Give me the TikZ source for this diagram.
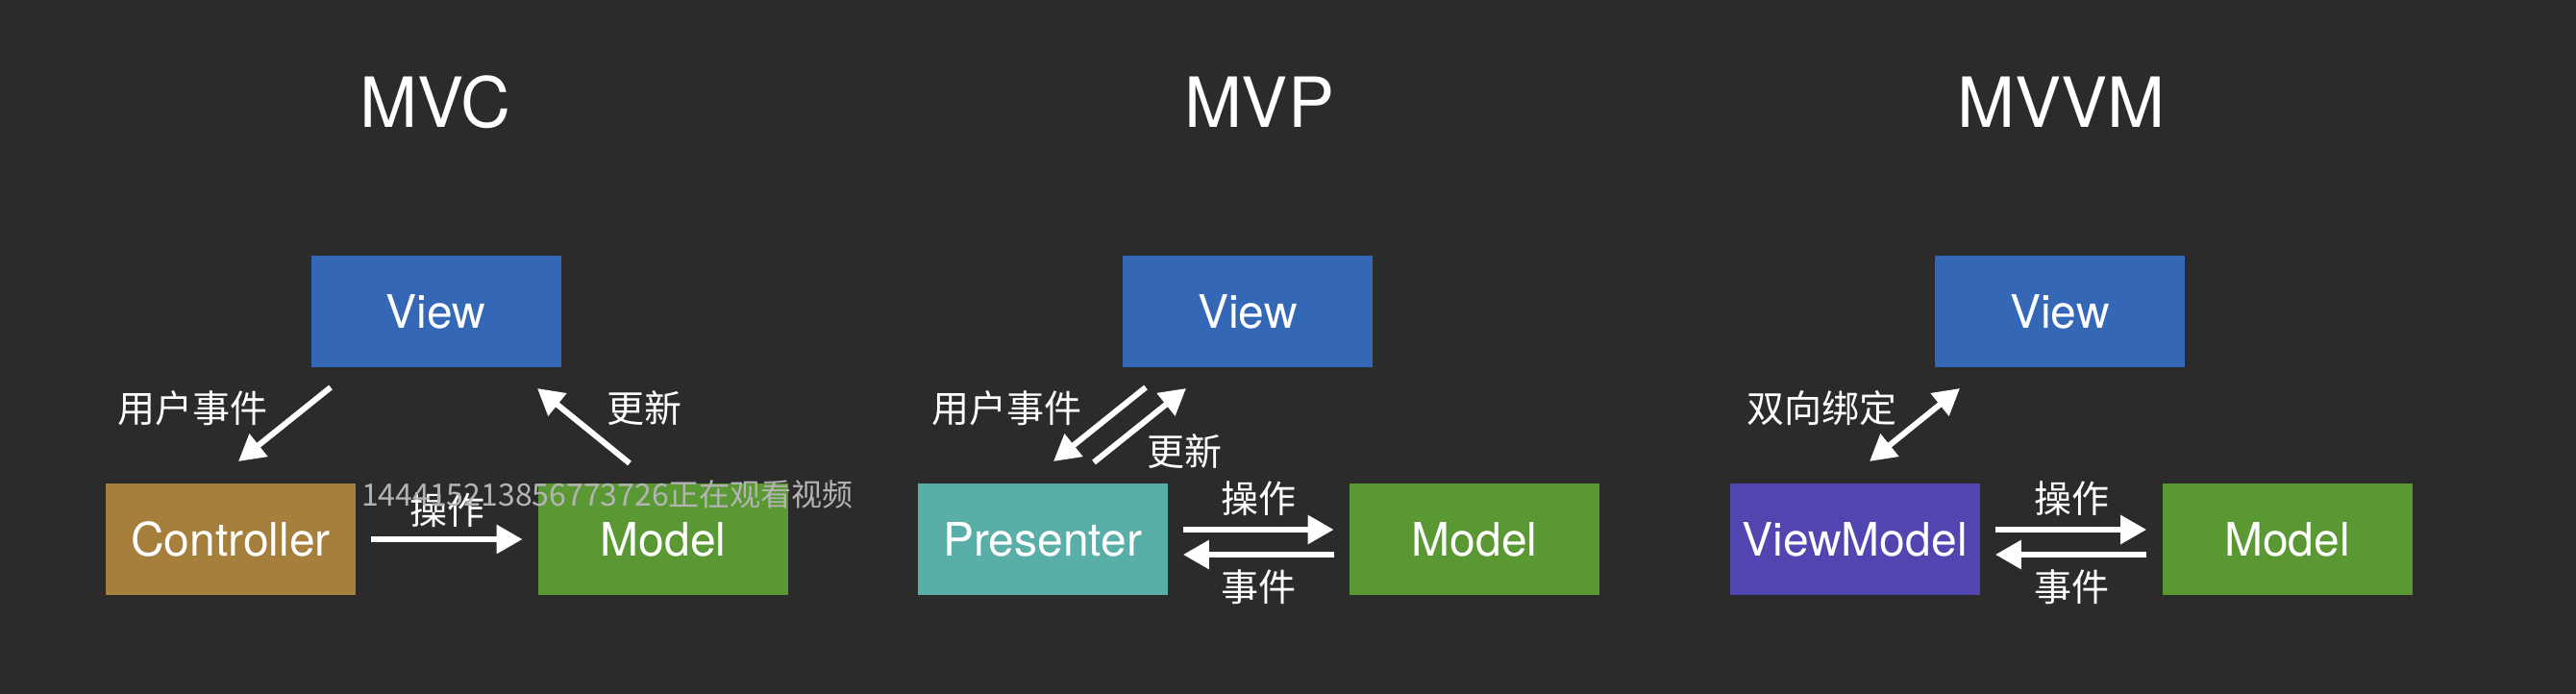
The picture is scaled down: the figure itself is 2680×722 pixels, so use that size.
\documentclass[tikz,border=0pt]{standalone}
\usepackage{fontspec}
\setmainfont{TeX Gyre Heros}
\newfontfamily\cjk{Noto Sans CJK SC}
\usetikzlibrary{arrows.meta}
\definecolor{bg}{HTML}{2B2B2B}
\definecolor{viewblue}{HTML}{3468B6}
\definecolor{ctrlbrown}{HTML}{A67F3D}
\definecolor{modelgreen}{HTML}{5A9834}
\definecolor{presteal}{HTML}{5AAEA8}
\definecolor{vmpurple}{HTML}{5145B0}
\definecolor{wm}{HTML}{B4B4B4}
\tikzset{
  box/.style={minimum width=130pt, minimum height=58pt, inner sep=0pt, text=white, font=\fontsize{24}{28}\selectfont},
  title/.style={text=white, inner sep=0pt, font=\fontsize{36}{43}\selectfont},
  lbl/.style={text=white, inner sep=0pt, font=\cjk\fontsize{19.5}{23}\selectfont},
  arr/.style={draw=white, line width=3pt, -{Triangle[length=13.5pt,width=14.5pt]}},
  darr/.style={draw=white, line width=3pt, {Triangle[length=13.5pt,width=14.5pt]}-{Triangle[length=13.5pt,width=14.5pt]}},
  gap/.style={shorten <=8pt, shorten >=8pt}
}
\begin{document}
\begin{tikzpicture}[x=0.5pt,y=-0.5pt]
\fill[bg] (0,0) rectangle (2680,722);
\useasboundingbox (0,0) rectangle (2680,722);

% titles
\node[title] (t1) at (453,106) {MVC};
\node[title] (t2) at (1310,106) {MVP};
\node[title] (t3) at (2144,106) {MVVM};

% MVC
\node[box, fill=viewblue] (v1) at (453.5,324) {View};
\node[box, fill=ctrlbrown] (c1) at (240,561) {Controller};
\node[box, fill=modelgreen] (m1) at (690,561) {Model};
\coordinate (a1s) at (344,403);
\coordinate (a1e) at (248,480);
\coordinate (b1s) at (655,482);
\coordinate (b1e) at (559,404);
\draw[arr] (a1s) -- (a1e);
\draw[arr] (b1s) -- (b1e);
\draw[arr, gap] (c1.east) -- (m1.west);
\node[lbl] (l1a) at (200,425) {用户事件};
\node[lbl] (l1b) at (670,425) {更新};
\node[lbl] (l1c) at (465,531) {操作};
\node[text=wm, inner sep=0pt, font=\cjk\fontsize{16}{19}\selectfont] (wmk) at (632,514) {144415213856773726正在观看视频};

% MVP
\node[box, fill=viewblue] (v2) at (1298,324) {View};
\node[box, fill=presteal] (p2) at (1084.5,561) {Presenter};
\node[box, fill=modelgreen] (m2) at (1534,561) {Model};
\coordinate (a2s) at (1192,403);
\coordinate (a2e) at (1096,480);
\coordinate (b2s) at (1138,481);
\coordinate (b2e) at (1234,404);
\draw[arr] (a2s) -- (a2e);
\draw[arr] (b2s) -- (b2e);
\draw[arr, gap] ([yshift=5pt]p2.east) -- ([yshift=5pt]m2.west);
\draw[arr, gap] ([yshift=-8pt]m2.west) -- ([yshift=-8pt]p2.east);
\node[lbl] (l2a) at (1047,425) {用户事件};
\node[lbl] (l2b) at (1232,470) {更新};
\node[lbl] (l2c) at (1309,519) {操作};
\node[lbl] (l2d) at (1309,611) {事件};

% MVVM
\node[box, fill=viewblue] (v3) at (2143,324) {View};
\node[box, fill=vmpurple] (vm3) at (1929.5,561) {ViewModel};
\node[box, fill=modelgreen] (m3) at (2379.5,561) {Model};
\coordinate (a3s) at (1945,480);
\coordinate (a3e) at (2039,404);
\draw[darr] (a3s) -- (a3e);
\draw[arr, gap] ([yshift=5pt]vm3.east) -- ([yshift=5pt]m3.west);
\draw[arr, gap] ([yshift=-8pt]m3.west) -- ([yshift=-8pt]vm3.east);
\node[lbl] (l3a) at (1895,425) {双向绑定};
\node[lbl] (l3c) at (2155,519) {操作};
\node[lbl] (l3d) at (2155,611) {事件};
\end{tikzpicture}
\end{document}
